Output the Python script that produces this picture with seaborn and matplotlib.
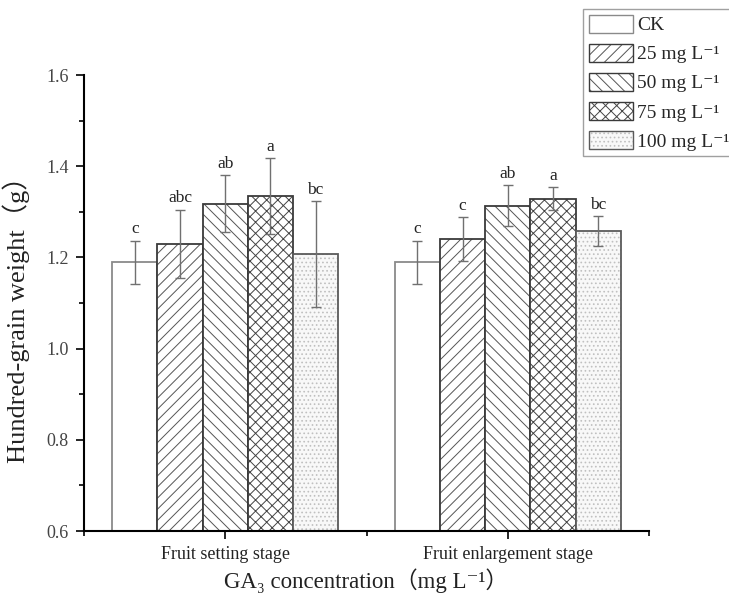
import numpy as np
import pandas as pd
import matplotlib
matplotlib.use("Agg")
import matplotlib.pyplot as plt
import seaborn as sns
from matplotlib.patches import Patch
from matplotlib.container import BarContainer
from matplotlib.colors import to_rgba
from matplotlib.ticker import MultipleLocator, FixedLocator

# ---------------- data ----------------
stages = ["Fruit setting stage", "Fruit enlargement stage"]
treatments = ["CK", "25 mg L⁻¹", "50 mg L⁻¹", "75 mg L⁻¹", "100 mg L⁻¹"]
setting_mean = [1.189, 1.230, 1.318, 1.335, 1.207]
setting_sd = [0.048, 0.075, 0.062, 0.083, 0.116]
setting_letters = ["c", "abc", "ab", "a", "bc"]
enlarge_mean = [1.189, 1.240, 1.313, 1.329, 1.258]
enlarge_sd = [0.048, 0.048, 0.045, 0.026, 0.032]
enlarge_letters = ["c", "c", "ab", "a", "bc"]
y_ticks = [0.6, 0.8, 1.0, 1.2, 1.4, 1.6]
y_label = "Hundred-grain weight（g）"
x_label = "GA₃ concentration（mg L⁻¹）"

hatches = ["", "///", "\\\\\\", "xxx", "...."]
edge_cols = ["#8a8a8a", "#3a3a3a", "#3a3a3a", "#3a3a3a", "#5a5a5a"]
hatch_cols = ["#8a8a8a", "#555555", "#555555", "#444444", "#c0c0c0"]
face_cols = ["white", "white", "white", "white", "#f8f8f8"]

sns.set_theme(style="ticks")
plt.rcParams["font.family"] = ["Liberation Serif", "Noto Sans CJK SC", "DejaVu Serif"]
plt.rcParams["hatch.linewidth"] = 0.7


def set_hatch_col(p, c):
    if hasattr(p, "set_hatchcolor"):
        p.set_hatchcolor(c)
    else:
        p._hatch_color = to_rgba(c)


df = pd.DataFrame({
    "stage": np.repeat(stages, len(treatments)),
    "treatment": treatments * len(stages),
    "value": setting_mean + enlarge_mean,
})
sds = [setting_sd, enlarge_sd]
letters = [setting_letters, enlarge_letters]

fig = plt.figure(figsize=(7.29, 6.04), dpi=100)
ax = fig.add_axes([84 / 729, 1 - 531 / 604, (649 - 84) / 729, (531 - 75) / 604])

sns.barplot(data=df, x="stage", y="value", hue="treatment", order=stages,
            hue_order=treatments, width=0.8, ax=ax, legend=False,
            palette=["white"] * 5, saturation=1, errorbar=None)

bar_conts = [c for c in ax.containers if isinstance(c, BarContainer)]
for i, cont in enumerate(bar_conts):
    for j, bar in enumerate(cont):
        bar.set_facecolor(face_cols[i])
        bar.set_edgecolor(edge_cols[i])
        bar.set_linewidth(1.3)
        bar.set_hatch(hatches[i])
        set_hatch_col(bar, hatch_cols[i])
        cx = bar.get_x() + bar.get_width() / 2
        h = bar.get_height()
        sd = sds[j][i]
        ax.errorbar(cx, h, yerr=sd, color="#707070", lw=1.0, capsize=3.3,
                    capthick=1.0, zorder=3)
        ax.text(cx, h + sd + 0.007, letters[j][i], ha="center", va="bottom",
                fontsize=12.5, color="#222222")

ax.set_xlim(-0.5, 1.5)
ax.set_ylim(0.6, 1.6)
ax.set_yticks(y_ticks)
ax.set_yticklabels([f"{t:.1f}" for t in y_ticks])
ax.yaxis.set_minor_locator(MultipleLocator(0.1))
ax.xaxis.set_minor_locator(FixedLocator([-0.5, 0.5, 1.5]))
ax.tick_params(axis="both", which="major", direction="out", length=6, width=1.2,
               color="black")
ax.tick_params(axis="both", which="minor", direction="out", length=3.5, width=1.2,
               color="black")
ax.tick_params(axis="y", labelsize=13, labelcolor="#444444", pad=5)
ax.tick_params(axis="x", labelsize=13, labelcolor="#222222", pad=5)
for s in ["top", "right"]:
    ax.spines[s].set_visible(False)
for s in ["left", "bottom"]:
    ax.spines[s].set_linewidth(1.5)
    ax.spines[s].set_color("black")

ax.set_xlabel(x_label, fontsize=16.5, color="#222222")
ax.set_ylabel(y_label, fontsize=19, color="#222222")
ax.xaxis.set_label_coords(0.5, -0.082)
ax.yaxis.set_label_coords(-0.095, 0.478)

handles = []
for i in range(len(treatments)):
    p = Patch(facecolor=face_cols[i], edgecolor=edge_cols[i], hatch=hatches[i],
              linewidth=1.0)
    set_hatch_col(p, hatch_cols[i])
    handles.append(p)
leg = ax.legend(handles, treatments, loc="upper left",
                bbox_to_anchor=(583 / 729, 1 - 9 / 604),
                bbox_transform=fig.transFigure, frameon=True, fancybox=False,
                edgecolor="#888888", fontsize=14, handlelength=2.25,
                handleheight=1.03, labelspacing=0.49, borderpad=0.3,
                handletextpad=0.25, borderaxespad=0)
leg.get_frame().set_linewidth(1.0)

fig.savefig("out.png", dpi=100)
